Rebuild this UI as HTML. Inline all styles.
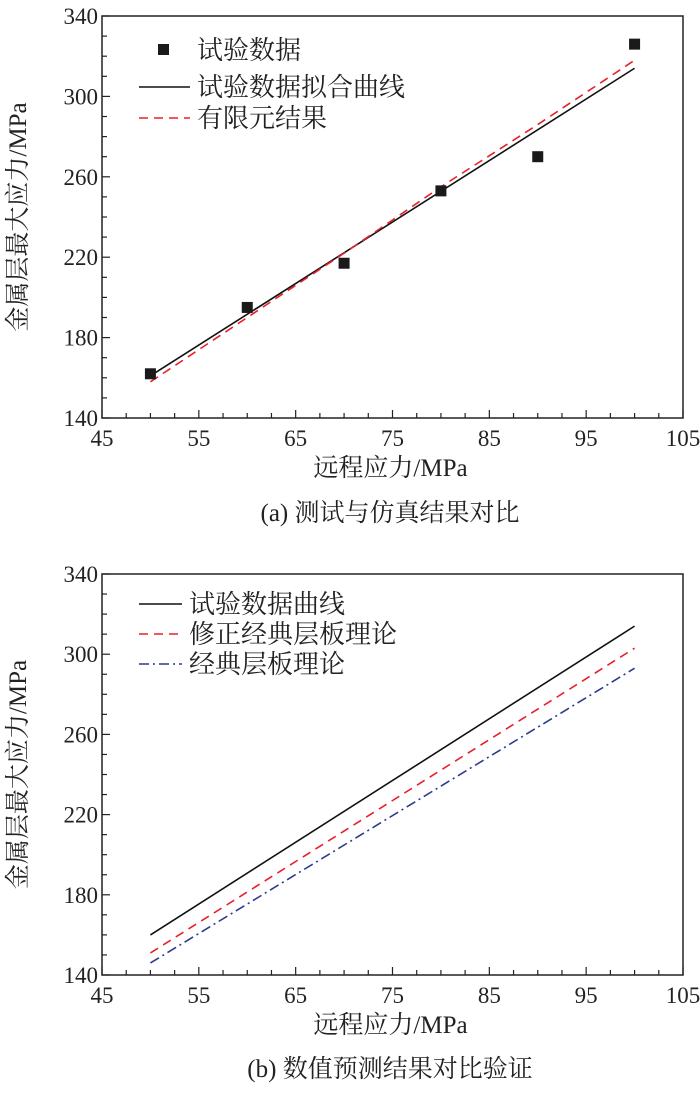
<!DOCTYPE html>
<html><head><meta charset="utf-8"><style>
body{margin:0;background:#fff;}
svg text{font-family:"Liberation Serif","Noto Serif CJK SC","Noto Sans CJK SC",serif;fill:#222;}
</style></head><body>
<svg id="svg" width="700" height="1088" viewBox="0 0 700 1088" xmlns="http://www.w3.org/2000/svg"></svg>
<script>
// shared axis ticks
const xTicks = [45,55,65,75,85,95,105];
const yTicks = [140,180,220,260,300,340];
// chart (a)
const aX = [50,60,70,80,90,100];
const aTest = [162,195,217,253,270,326];
const aFit = [161,314];
const aFitX = [50,100];
const aFE = [158,190,222,255,286,318];
// chart (b)
const bX = [50,100];
const bTest = [160,314];
const bMod = [151,303];
const bClassic = [146,293];

const NS='http://www.w3.org/2000/svg';
const svg=document.getElementById('svg');
function el(tag,attrs,parent,text){const e=document.createElementNS(NS,tag);for(const k in attrs)e.setAttribute(k,attrs[k]);if(text!==undefined)e.textContent=text;(parent||svg).appendChild(e);return e;}

function chart(L,R,T,B,name){
  const g=el('g',{},svg);
  
  
  const sx=v=>L+(v-45)/60*(R-L);
  const sy=v=>B-(v-140)/200*(B-T);
  const frame=el('rect',{x:L,y:T,width:R-L,height:B-T,fill:'none',stroke:'#222','stroke-width':1.5},g);
  
  
  for(let v=45;v<=105;v+=2.5){const x=sx(v);const major=(v-45)%10===0;
    const t=el('line',{x1:x,x2:x,y1:B,y2:B-(major?8:5),stroke:'#222','stroke-width':1.2},g);
    }
  for(let v=140;v<=340;v+=10){const y=sy(v);const major=(v-140)%40===0;
    const t=el('line',{x1:L,x2:L+(major?8:5),y1:y,y2:y,stroke:'#222','stroke-width':1.2},g);
    }
  xTicks.forEach(v=>{const t=el('text',{x:sx(v),y:B+28,'text-anchor':'middle','font-size':23},g,String(v));
    });
  yTicks.forEach(v=>{const t=el('text',{x:L-4,y:sy(v)+8,'text-anchor':'end','font-size':23},g,String(v));
    });
  const xt=el('text',{x:(L+R)/2-2,y:B+58,'text-anchor':'middle','font-size':25},g,'远程应力/MPa');
  
  const cy=(T+B)/2;
  const yt=el('text',{x:0,y:0,'text-anchor':'middle','font-size':25,transform:`translate(26,${cy}) rotate(-90)`},g,'金属层最大应力/MPa');
  
  return {g,sx,sy};
}
function line(c,xs,ys,color,dash,name){
  const p=el('polyline',{points:xs.map((x,i)=>c.sx(x)+','+c.sy(ys[i])).join(' '),fill:'none',stroke:color,'stroke-width':1.6,'stroke-dasharray':dash||'none'},c.g);
  
}
function legend(g,y,x1,x2,color,dash,label,name){
  const l=el('line',{x1:x1,x2:x2,y1:y,y2:y,stroke:color,'stroke-width':1.6,'stroke-dasharray':dash||'none'},g);
  
  const t=el('text',{x:x2+7,y:y+9,'font-size':26},g,label);
  
}

// chart a
const A=chart(102,683,16,418,'chart-a');
line(A,aFitX,aFit,'#111',null,'fit-line');
line(A,aX,aFE,'#e8202a','9,6','fe-line');
aX.forEach((x,i)=>{const r=el('rect',{x:A.sx(x)-5.5,y:A.sy(aTest[i])-5.5,width:11,height:11,fill:'#1a1a1a'},A.g);
  });
const m=el('rect',{x:158,y:44,width:11,height:11,fill:'#1a1a1a'},A.g);

const lt=el('text',{x:197,y:59,'font-size':26},A.g,'试验数据');

legend(A.g,87,139,190,'#111',null,'试验数据拟合曲线','legend-fit');
legend(A.g,118,139,190,'#e8202a','9,6','有限元结果','legend-fe');
const ca=el('text',{x:390,y:521,'text-anchor':'middle','font-size':25},svg,'(a) 测试与仿真结果对比');


// chart b
const Bc=chart(102,683,574,975,'chart-b');
line(Bc,bX,bTest,'#111',null,'test-curve');
line(Bc,bX,bMod,'#e8202a','9,6','modified-clt-line');
line(Bc,bX,bClassic,'#2e3a8c','10,4,2,4','clt-line');
legend(Bc.g,604,139,182,'#111',null,'试验数据曲线','legend-test');
legend(Bc.g,634,139,182,'#e8202a','9,6','修正经典层板理论','legend-modified');
legend(Bc.g,664,139,182,'#2e3a8c','10,4,2,4','经典层板理论','legend-classic');
const cb=el('text',{x:390,y:1077,'text-anchor':'middle','font-size':25},svg,'(b) 数值预测结果对比验证');

</script>
</body></html>
